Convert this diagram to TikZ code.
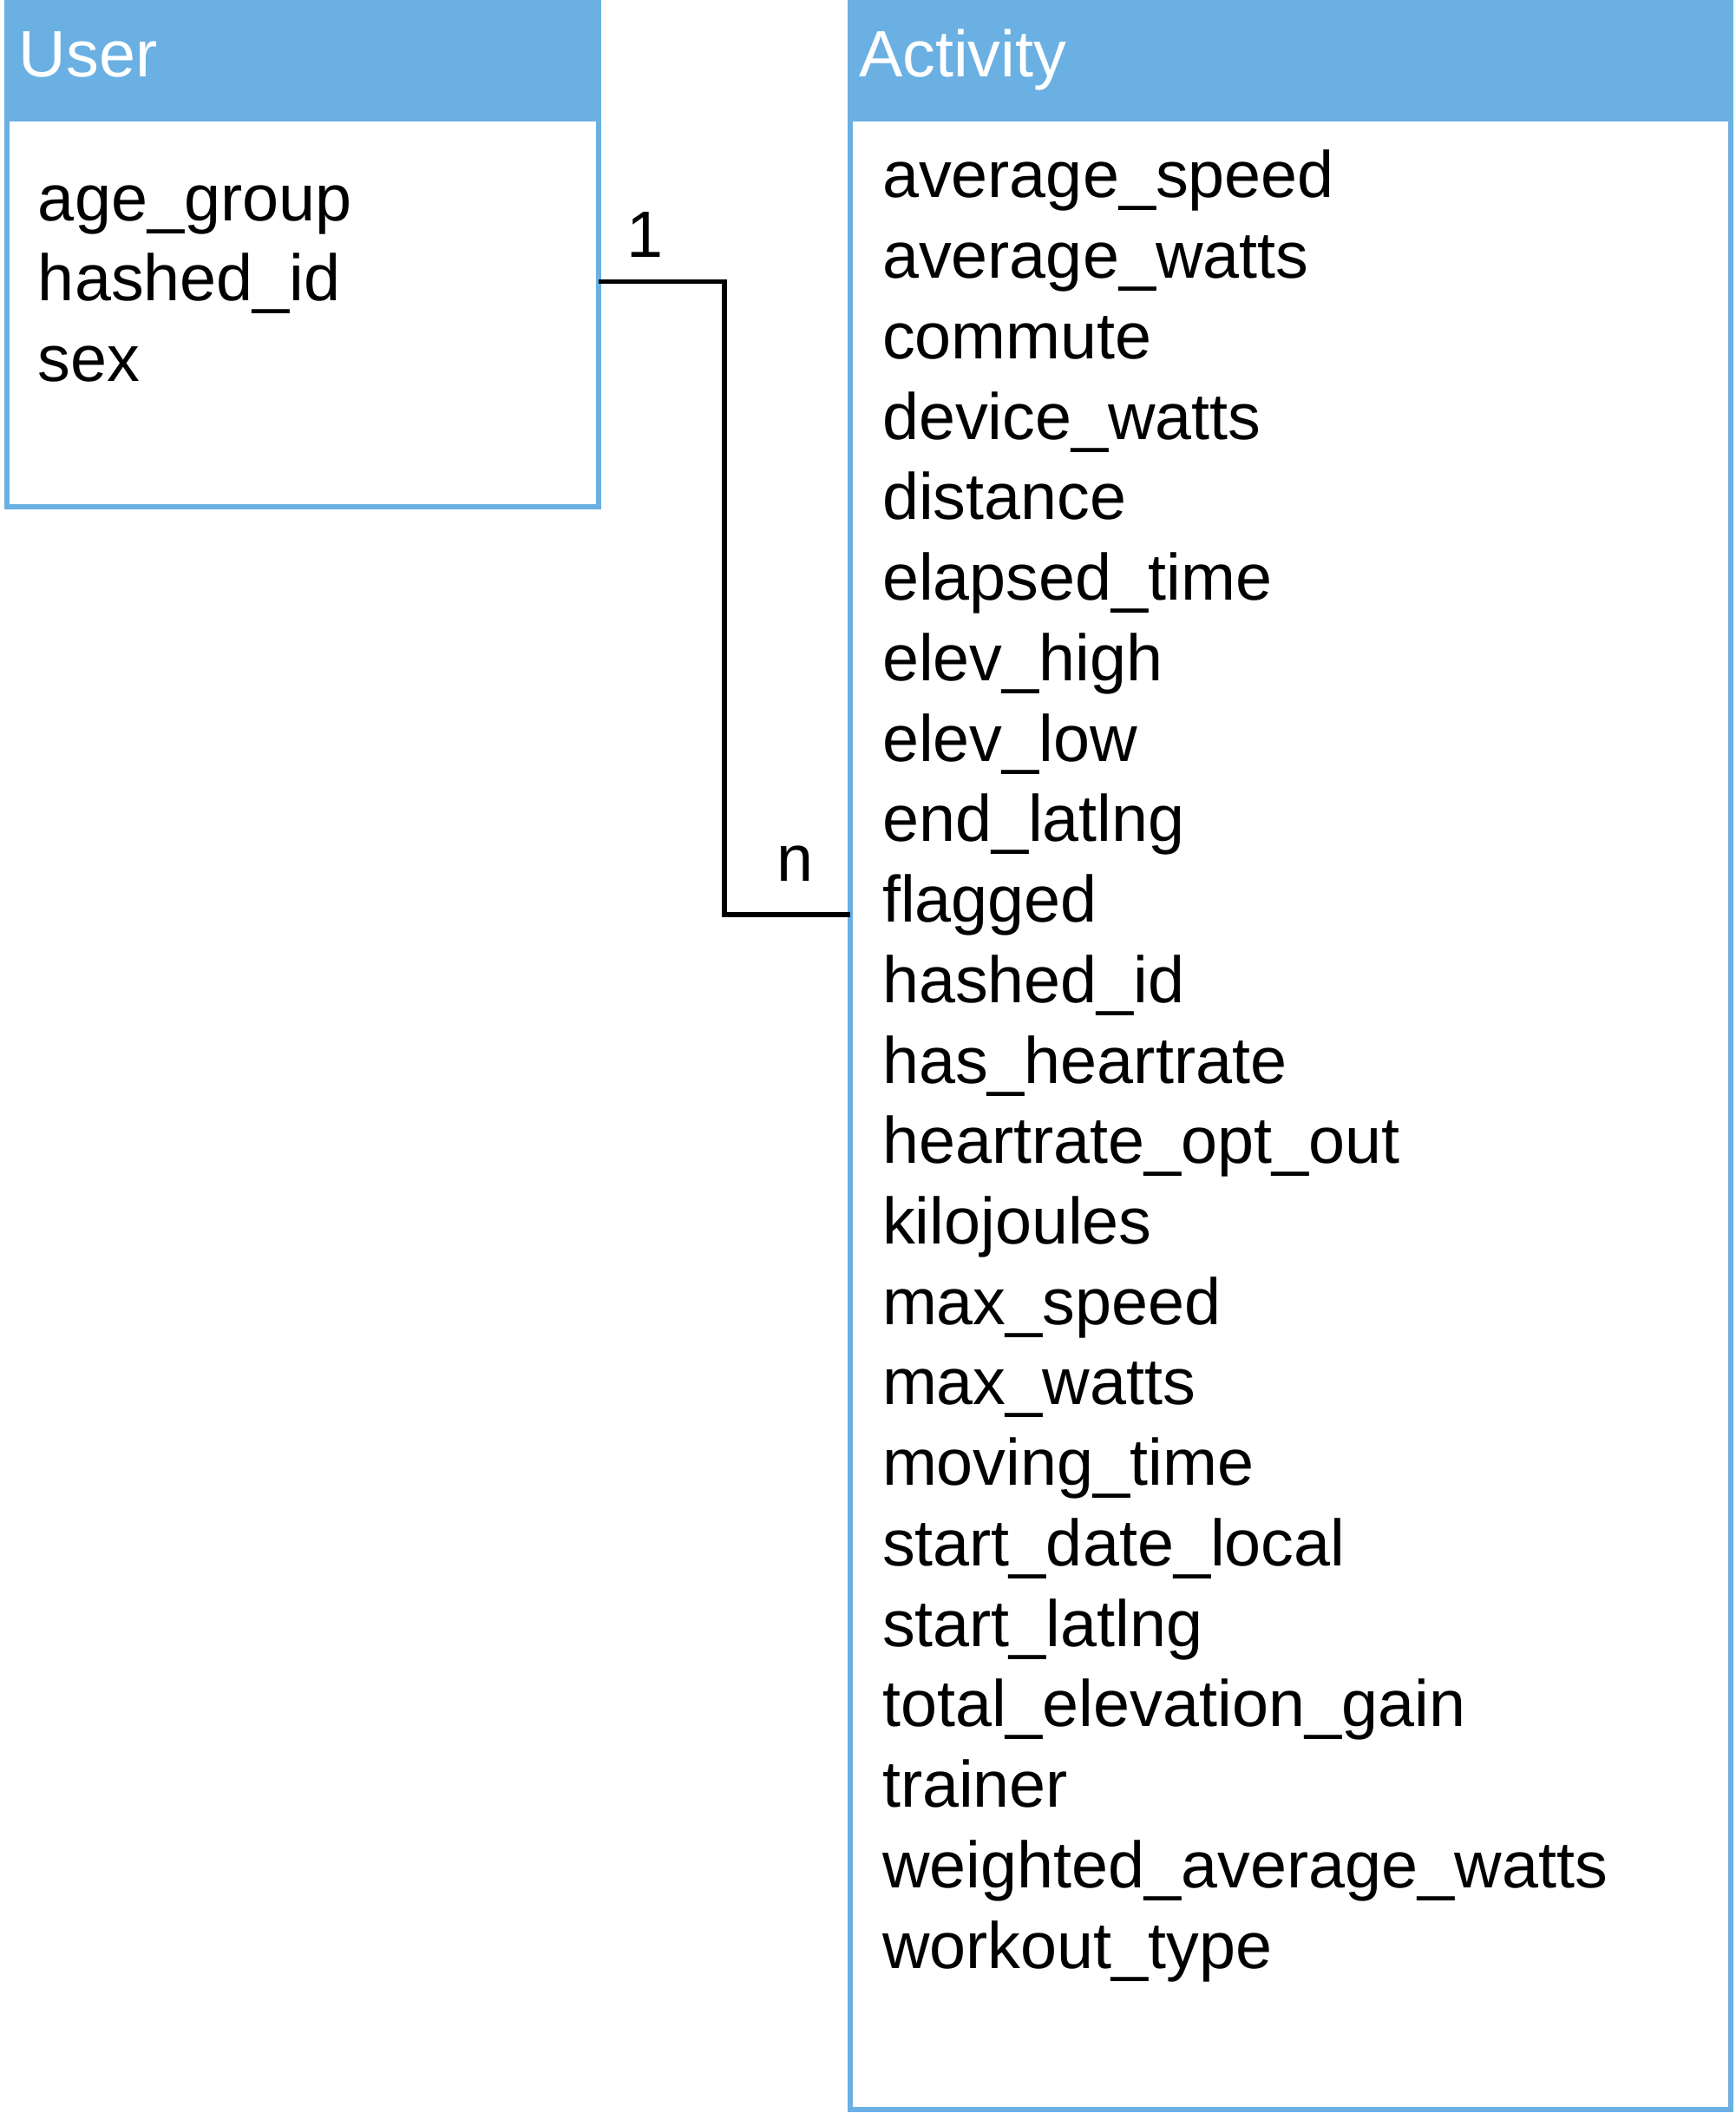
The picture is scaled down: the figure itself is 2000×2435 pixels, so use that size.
\documentclass[tikz,border=0pt]{standalone}
\usepackage{fontspec}
\setmainfont{Liberation Sans}
\usepackage{tikz}
\usetikzlibrary{positioning, calc}
\definecolor{erblue}{RGB}{106,176,227}

\begin{document}
\begin{tikzpicture}[x=0.1mm, y=-0.1mm, line width=1.7pt,
  every node/.style={font=\fontsize{21.5}{26}\selectfont, inner sep=0pt},
  hdr/.style={draw=erblue, fill=erblue, anchor=north west, outer sep=0pt, minimum height=1.35cm},
  tbody/.style={draw=erblue, fill=white, anchor=north west, outer sep=0pt},
  title/.style={anchor=base west, text=white},
  field/.style={anchor=base west},
  link/.style={draw=black, line width=1.6pt}]
\useasboundingbox (0,0) rectangle (2000,2435);
\node[hdr, minimum width=6.82cm] (uhead) at (8,2) {};
\node[tbody, minimum width=6.82cm, minimum height=4.47cm] (ubody) at (uhead.south west) {};
\node[hdr, minimum width=10.15cm] (ahead) at (980,2) {};
\node[tbody, minimum width=10.15cm, minimum height=22.94cm] (abody) at (ahead.south west) {};
\node[title] (utitle) at (19,89) {User};
\node[title] (atitle) at (987,89) {Activity};
\foreach \f [count=\i] in {age\_group, hashed\_id, sex}
  \node[field] (uf\i) at (41,{254.5+92.5*(\i-1)}) {\f};
\foreach \f [count=\i] in {average\_speed, average\_watts, commute, device\_watts, distance,
    elapsed\_time, elev\_high, elev\_low, end\_latlng, flagged, hashed\_id, has\_heartrate,
    heartrate\_opt\_out, kilojoules, max\_speed, max\_watts, moving\_time, start\_date\_local,
    start\_latlng, total\_elevation\_gain, trainer, weighted\_average\_watts, workout\_type}
  \node[field] (af\i) at (1014,{228+92.73*(\i-1)}) {\f};
\coordinate (ustart) at (ubody.east |- 0,324.5);
\coordinate (elbow) at (835,1054);
\coordinate (aend) at (abody.west |- elbow);
\draw[link] (ustart) -| (elbow) -- (aend);
\node[field] (one) at (719,297) {1};
\node[field] (many) at (892,1015) {n};
\end{tikzpicture}
\end{document}
